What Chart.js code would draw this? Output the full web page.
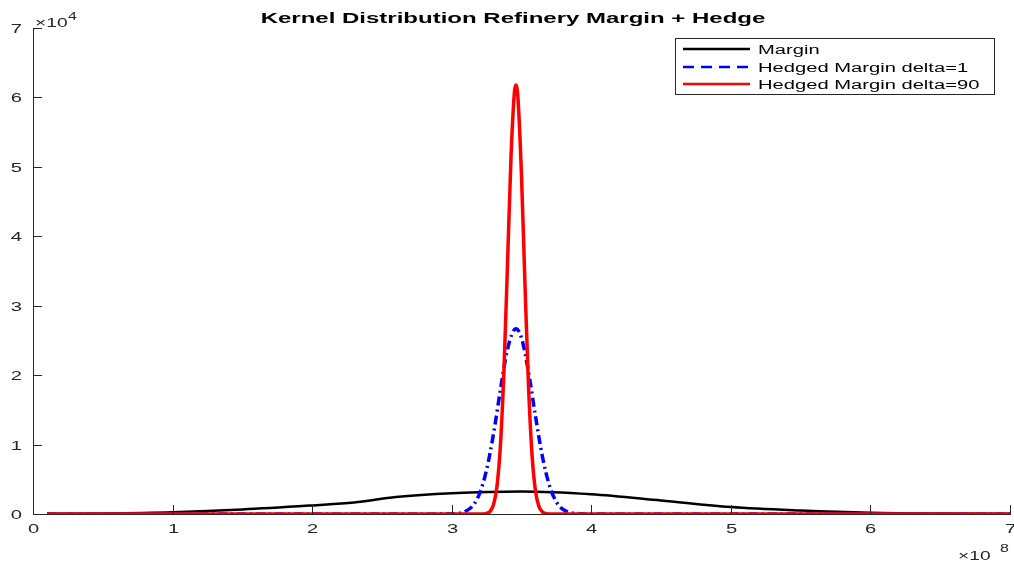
<!DOCTYPE html>
<html>
<head>
<meta charset="utf-8">
<script src="https://cdn.jsdelivr.net/npm/chart.js@4/dist/chart.umd.min.js"></script>
<style>
  html, body { margin: 0; padding: 0; background: #fff; }
  #wrap { width: 1014px; height: 561px; }
</style>
</head>
<body>
<div id="wrap"><canvas id="kde"></canvas></div>
<script>
// x in units of 1e8, y in units of 1e4
const marginX = [0.1, 0.5, 1.0, 1.5, 2.0, 2.3, 2.6, 3.0, 3.5, 4.0, 4.5, 5.0, 5.5, 6.0, 6.5, 7.0];
const marginY = [0.002, 0.008, 0.026, 0.065, 0.124, 0.165, 0.245, 0.30, 0.325, 0.285, 0.195, 0.10, 0.05, 0.018, 0.006, 0.002];

const hedge1X = [0.1, 3.0, 3.05, 3.10, 3.15, 3.20, 3.25, 3.30, 3.35, 3.40, 3.46, 3.50, 3.55, 3.60, 3.65, 3.70, 3.75, 3.80, 3.85, 3.90, 3.95, 4.0, 7.0];
const hedge1Y = [0, 0.002, 0.01, 0.04, 0.117, 0.296, 0.638, 1.16, 1.80, 2.376, 2.67, 2.535, 2.05, 1.41, 0.825, 0.41, 0.173, 0.062, 0.019, 0.006, 0.0015, 0, 0];

const hedge90X = [0.1, 3.2, 3.25, 3.275, 3.30, 3.325, 3.35, 3.375, 3.40, 3.425, 3.45, 3.46, 3.475, 3.50, 3.525, 3.55, 3.575, 3.60, 3.625, 3.65, 3.675, 3.70, 3.75, 7.0];
const hedge90Y = [0, 0, 0.009, 0.038, 0.138, 0.411, 1.02, 2.11, 3.62, 5.15, 6.09, 6.18, 5.98, 4.87, 3.30, 1.855, 0.865, 0.335, 0.108, 0.029, 0.007, 0.0015, 0, 0];

const seriesLabels = ['Margin', 'Hedged Margin delta=1', 'Hedged Margin delta=90'];
const seriesColors = ['#000000', '#0000ff', '#ff0000'];
const chartTitle = 'Kernel Distribution Refinery Margin + Hedge';

const axisColor = '#262626';
const fontFamily = '"Liberation Sans", Arial, Helvetica, sans-serif';
const stretch = 1.68; // text in the picture is widened horizontally

function toPoints(xs, ys) {
  return xs.map((x, i) => ({ x: x, y: ys[i] }));
}

function wideText(ctx, text, x, y, align, sx) {
  ctx.save();
  ctx.translate(x, y);
  ctx.scale(sx || stretch, 1);
  ctx.textAlign = align;
  ctx.fillText(text, 0, 0);
  ctx.restore();
}

// title, tick labels, inward ticks, exponent labels and boxed legend
const extras = {
  id: 'extras',
  afterDraw(chart) {
    const ctx = chart.ctx;
    const area = chart.chartArea;
    const xs = chart.scales.x;
    const ys = chart.scales.y;
    ctx.save();
    ctx.textBaseline = 'alphabetic';

    ctx.strokeStyle = axisColor;
    ctx.lineWidth = 1;
    ctx.fillStyle = axisColor;
    ctx.font = '12px ' + fontFamily;
    ys.ticks.forEach(t => {
      const py = Math.round(ys.getPixelForValue(t.value)) + 0.5;
      ctx.beginPath();
      ctx.moveTo(area.left, py);
      ctx.lineTo(area.left + 9, py);
      ctx.stroke();
      wideText(ctx, t.label, 22, py + 4.5, 'right');
    });
    xs.ticks.forEach(t => {
      const px = Math.round(xs.getPixelForValue(t.value)) + 0.5;
      ctx.beginPath();
      ctx.moveTo(px, area.bottom);
      ctx.lineTo(px, area.bottom - 9);
      ctx.stroke();
      wideText(ctx, t.label, px, 533, 'center');
    });

    ctx.fillStyle = '#000';
    ctx.font = 'bold 15px ' + fontFamily;
    wideText(ctx, chartTitle, 513, 23, 'center', 1.6);

    ctx.fillStyle = axisColor;
    ctx.font = '12px ' + fontFamily;
    wideText(ctx, '\u00d710', 35, 27, 'left', 1.6);
    wideText(ctx, '\u00d710', 958, 560, 'left', 1.6);
    ctx.font = '10px ' + fontFamily;
    wideText(ctx, '4', 68, 20, 'left', 1.6);
    wideText(ctx, '8', 1000, 552, 'left', 1.6);

    // legend
    const lx = 675, ly = 38, lw = 319, lh = 56;
    ctx.fillStyle = '#fff';
    ctx.fillRect(lx, ly, lw, lh);
    ctx.strokeStyle = axisColor;
    ctx.lineWidth = 1;
    ctx.strokeRect(lx + 0.5, ly + 0.5, lw, lh);
    const rows = [49, 67, 84];
    const dashes = [[], [11, 7], []];
    ctx.font = '12px ' + fontFamily;
    seriesLabels.forEach((lab, i) => {
      ctx.strokeStyle = seriesColors[i];
      ctx.lineWidth = 2.5;
      ctx.setLineDash(dashes[i]);
      ctx.beginPath();
      ctx.moveTo(683, rows[i]);
      ctx.lineTo(750, rows[i]);
      ctx.stroke();
      ctx.setLineDash([]);
      ctx.fillStyle = '#000';
      wideText(ctx, lab, 758, rows[i] + 5, 'left');
    });
    ctx.restore();
  }
};

new Chart(document.getElementById('kde'), {
  type: 'line',
  data: {
    datasets: [
      {
        label: seriesLabels[0],
        data: toPoints(marginX, marginY),
        borderColor: seriesColors[0],
        borderWidth: 2.5,
        order: 3
      },
      {
        label: seriesLabels[1],
        data: toPoints(hedge1X, hedge1Y),
        borderColor: seriesColors[1],
        borderWidth: 3.5,
        borderDash: [9, 4, 2, 4],
        order: 2
      },
      {
        label: seriesLabels[2],
        data: toPoints(hedge90X, hedge90Y),
        borderColor: seriesColors[2],
        borderWidth: 3.5,
        order: 1
      }
    ]
  },
  options: {
    responsive: true,
    maintainAspectRatio: false,
    animation: false,
    layout: { padding: { top: 28, right: 4, left: 0, bottom: 0 } },
    elements: {
      point: { radius: 0 },
      line: { cubicInterpolationMode: 'monotone', fill: false }
    },
    plugins: {
      legend: { display: false },
      title: { display: false },
      tooltip: { enabled: false }
    },
    scales: {
      x: {
        type: 'linear',
        min: 0,
        max: 7,
        afterFit(scale) { scale.height = 47; },
        grid: { display: false, drawTicks: false },
        border: { display: true, color: axisColor, width: 1 },
        ticks: { stepSize: 1, display: false }
      },
      y: {
        min: 0,
        max: 7,
        afterFit(scale) { scale.width = 33; },
        grid: { display: false, drawTicks: false },
        border: { display: true, color: axisColor, width: 1 },
        ticks: { stepSize: 1, display: false }
      }
    }
  },
  plugins: [extras]
});
</script>
</body>
</html>
